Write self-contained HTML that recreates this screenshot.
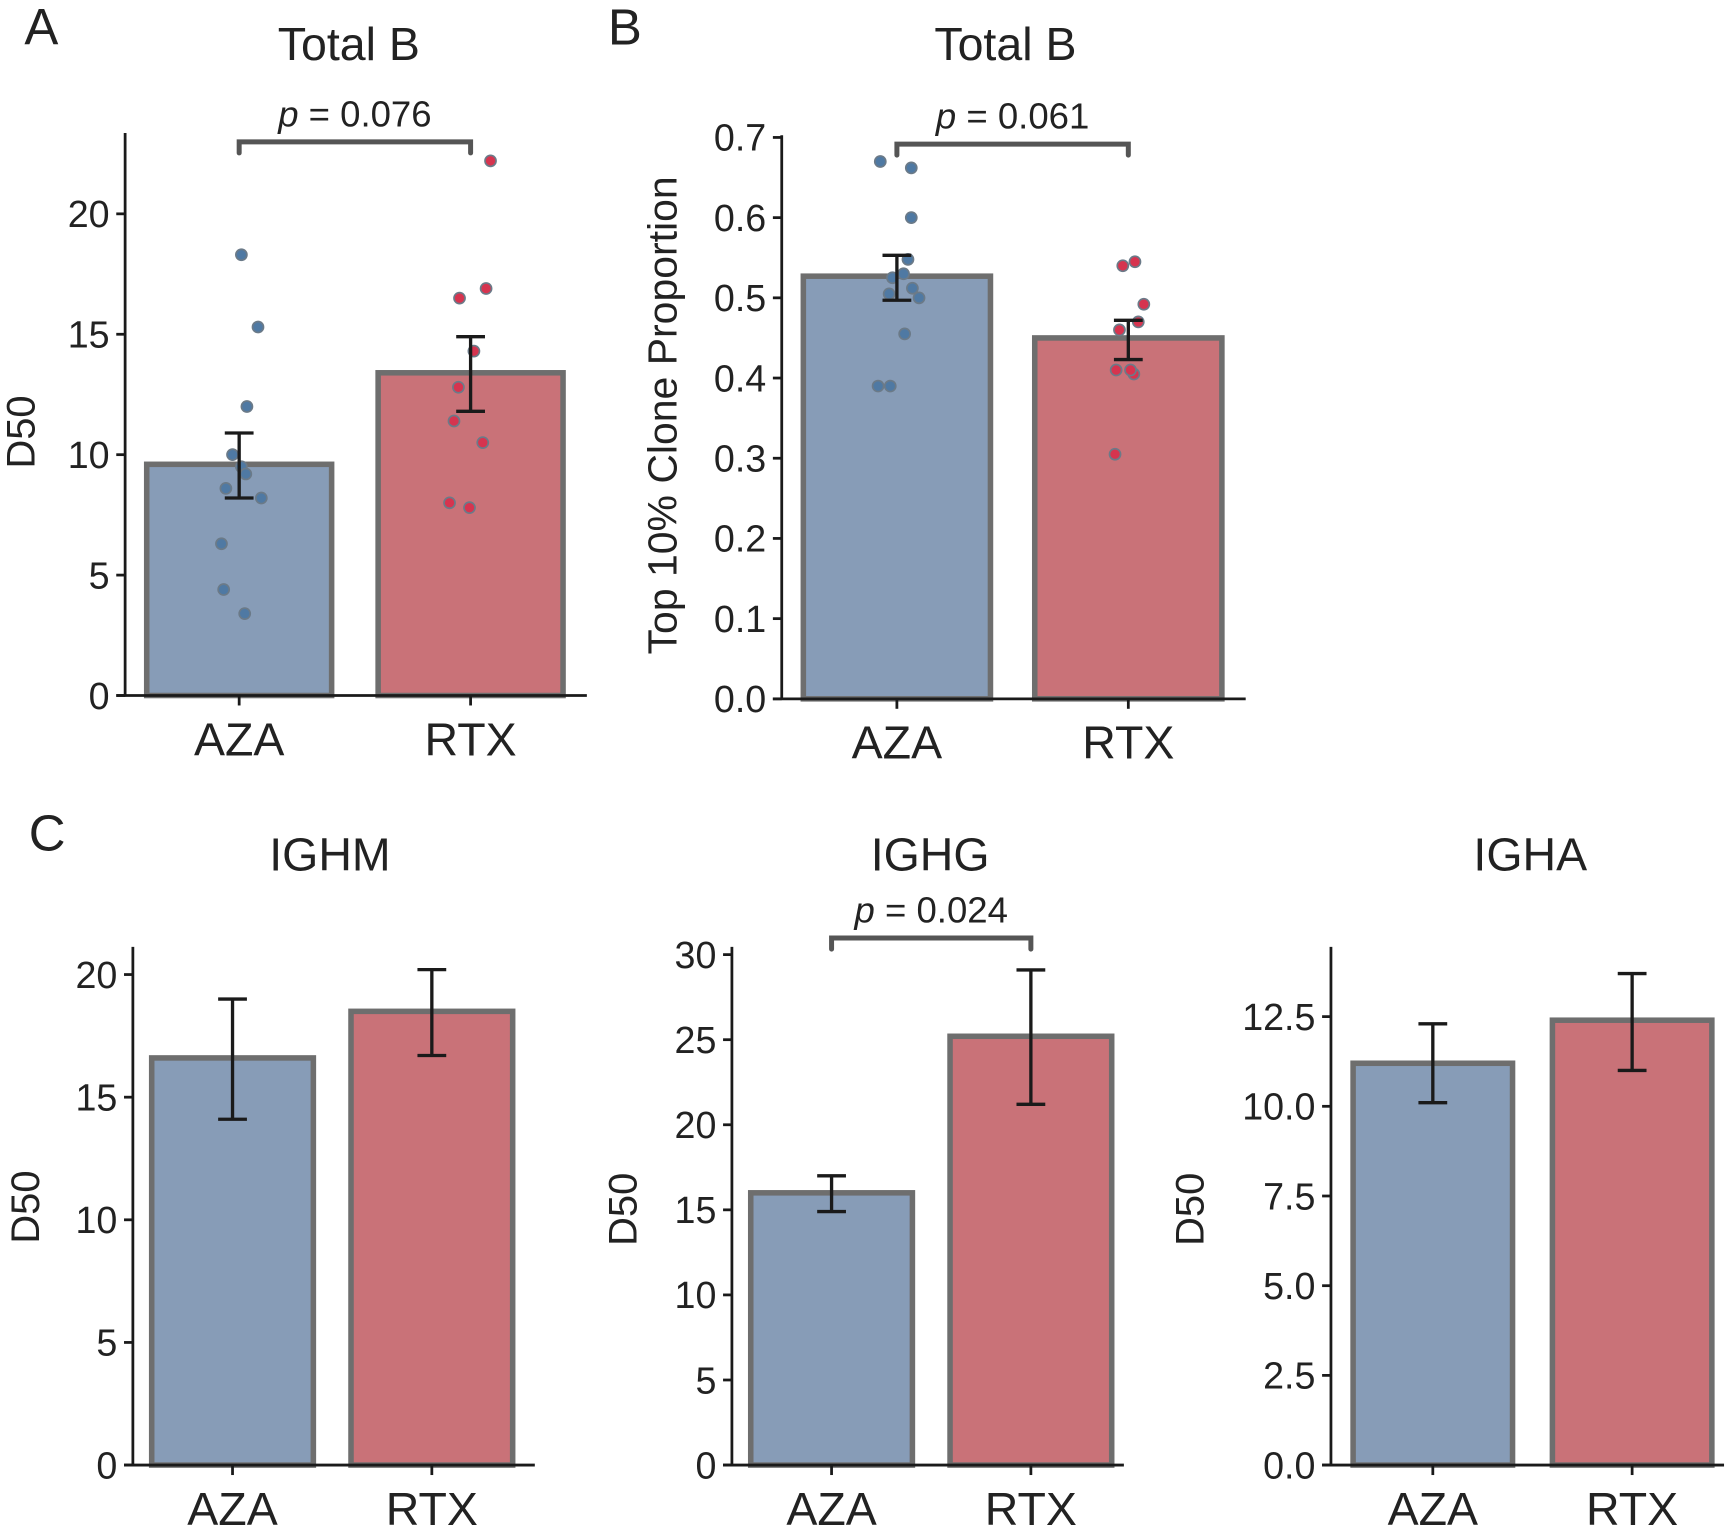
<!DOCTYPE html>
<html><head><meta charset="utf-8">
<style>
html,body{margin:0;padding:0;background:#fff;}
svg text{font-family:"Liberation Sans",Arial,sans-serif;fill:#222;}
</style></head>
<body>
<svg id="fig" xmlns="http://www.w3.org/2000/svg" width="1734" height="1525" viewBox="0 0 1566 1377">
<rect width="1566" height="1377" fill="#fff"/>
</svg>
<script>
const categories = ["AZA", "RTX"];
// Panel A: Total B D50
const aMeans = [9.6, 13.4];
const aErrLo = [8.2, 11.8];
const aErrHi = [10.9, 14.9];
const aTicks = [0, 5, 10, 15, 20];
const aTickLabels = ["0", "5", "10", "15", "20"];
const aPtsAZA = [18.3, 15.3, 12.0, 10.0, 9.5, 9.2, 8.6, 8.2, 6.3, 4.4, 3.4];
const aJitAZA = [2, 17, 7, -6, 2, 6, -12, 20, -16, -14, 5];
const aPtsRTX = [22.2, 16.5, 16.9, 14.3, 12.8, 11.4, 10.5, 8.0, 7.8];
const aJitRTX = [18, -10, 14, 3, -11, -15, 11, -19, -1];
// Panel B: Top 10% clone proportion
const bMeans = [0.527, 0.45];
const bErrLo = [0.497, 0.423];
const bErrHi = [0.553, 0.472];
const bTicks = [0, 0.1, 0.2, 0.3, 0.4, 0.5, 0.6, 0.7];
const bTickLabels = ["0.0", "0.1", "0.2", "0.3", "0.4", "0.5", "0.6", "0.7"];
const bPtsAZA = [0.67, 0.662, 0.60, 0.548, 0.525, 0.53, 0.512, 0.505, 0.50, 0.455, 0.39, 0.39];
const bJitAZA = [-15, 13, 13, 10, -4, 6, 14, -7, 20, 7, -17, -6];
const bPtsRTX = [0.545, 0.54, 0.492, 0.47, 0.46, 0.41, 0.405, 0.41, 0.305];
const bJitRTX = [6, -5, 14, 9, -8, -11, 5, 2, -12];
// Panel C
const mMeans = [16.6, 18.5], mErrLo = [14.1, 16.7], mErrHi = [19.0, 20.2];
const mTicks = [0, 5, 10, 15, 20], mTickLabels = ["0", "5", "10", "15", "20"];
const gMeans = [16.0, 25.2], gErrLo = [14.9, 21.2], gErrHi = [17.0, 29.1];
const gTicks = [0, 5, 10, 15, 20, 25, 30], gTickLabels = ["0", "5", "10", "15", "20", "25", "30"];
const hMeans = [11.2, 12.4], hErrLo = [10.1, 11.0], hErrHi = [12.3, 13.7];
const hTicks = [0, 2.5, 5, 7.5, 10, 12.5], hTickLabels = ["0.0", "2.5", "5.0", "7.5", "10.0", "12.5"];

const NS = "http://www.w3.org/2000/svg";
const svg = document.getElementById("fig");
function mk(tag, attrs, parent, txt) {
  const e = document.createElementNS(NS, tag);
  for (const k in attrs) e.setAttribute(k, attrs[k]);
  if (txt !== undefined) e.textContent = txt;
  (parent || svg).appendChild(e);
  return e;
}
const fills = ["#879cb7", "#c97278"];
const ptFill = ["#4f79a3", "#d6344f"];

function panel(cfg) {
  const g = mk("g", {});
  
  
  const y = v => cfg.y0 + (v - 0) * (cfg.y1 - cfg.y0) / cfg.v1;
  cfg.means.forEach((m, i) => {
    const cx = cfg.cx[i];
    const r = mk("rect", {x: cx - cfg.bw / 2, y: y(m), width: cfg.bw, height: cfg.y0 - y(m),
      fill: fills[i], stroke: "#6e6e6e", "stroke-width": 5}, g);
    
    
  });
  if (cfg.pts) cfg.pts.forEach((arr, i) => {
    arr.forEach((v, j) => {
      const c = mk("circle", {cx: cfg.cx[i] + cfg.jit[i][j], cy: y(v), r: 5, fill: ptFill[i],
        stroke: "#6b7a88", "stroke-width": 1.5}, g);
      
      
    });
  });
  cfg.means.forEach((m, i) => {
    const cx = cfg.cx[i];
    const eg = mk("g", {stroke: "#1a1a1a", "stroke-width": 3}, g);
    
    
    mk("line", {x1: cx, x2: cx, y1: y(cfg.lo[i]), y2: y(cfg.hi[i])}, eg);
    mk("line", {x1: cx - 13, x2: cx + 13, y1: y(cfg.lo[i]), y2: y(cfg.lo[i])}, eg);
    mk("line", {x1: cx - 13, x2: cx + 13, y1: y(cfg.hi[i]), y2: y(cfg.hi[i])}, eg);
  });
  const ax = mk("g", {stroke: "#1a1a1a", "stroke-width": 2.5}, g);
  
  
  mk("line", {x1: cfg.ax, x2: cfg.ax, y1: cfg.top, y2: cfg.y0 + 1}, ax);
  mk("line", {x1: cfg.ax - 8, x2: cfg.xr, y1: cfg.y0, y2: cfg.y0}, ax);
  cfg.ticks.forEach((t, i) => {
    mk("line", {x1: cfg.ax - 8, x2: cfg.ax, y1: y(t), y2: y(t)}, ax);
    const tl = mk("text", {x: cfg.ax - 14, y: y(t) + 12, "font-size": 34, "text-anchor": "end"}, g, cfg.tickLabels[i]);
    
    
  });
  categories.forEach((c, i) => {
    mk("line", {x1: cfg.cx[i], x2: cfg.cx[i], y1: cfg.y0, y2: cfg.y0 + 9}, ax);
    const t = mk("text", {x: cfg.cx[i], y: cfg.y0 + 54, "font-size": 42, "text-anchor": "middle"}, g, c);
    
    
  });
  const yl = mk("text", {x: 0, y: 0, "font-size": cfg.ylfs || 36, "text-anchor": "middle",
    transform: `translate(${cfg.ylx},${cfg.yly}) rotate(-90)`}, g, cfg.ylabel);
  
  
  const ti = mk("text", {x: cfg.tx, y: cfg.ty, "font-size": 42, "text-anchor": "middle"}, g, cfg.title);
  
  
  if (cfg.p) {
    const by = cfg.by;
    const br = mk("path", {d: `M${cfg.cx[0]},${by + 10} L${cfg.cx[0]},${by} L${cfg.cx[1]},${by} L${cfg.cx[1]},${by + 10}`,
      fill: "none", stroke: "#555", "stroke-width": 4.5, "stroke-linecap": "round"}, g);
    
    
    const pt = mk("text", {x: (cfg.cx[0] + cfg.cx[1]) / 2, y: by - 14, "font-size": 33, "text-anchor": "middle"}, g);
    
    
    mk("tspan", {"font-style": "italic"}, pt, "p");
    mk("tspan", {}, pt, " = " + cfg.p);
  }
  if (cfg.letter) {
    const l = mk("text", {x: cfg.lx, y: cfg.ly, "font-size": 46}, g, cfg.letter);
    
    
  }
}

panel({name: "panel-a", ax: 113, xr: 530, top: 120, y0: 628, y1: 193, v1: 20, bw: 167, cx: [216, 425],
  means: aMeans, lo: aErrLo, hi: aErrHi, ticks: aTicks, tickLabels: aTickLabels,
  pts: [aPtsAZA, aPtsRTX], jit: [aJitAZA, aJitRTX], ylabel: "D50", ylx: 31, yly: 390,
  title: "Total B", tx: 315, ty: 54, p: "0.076", by: 128, letter: "A", lx: 22, ly: 40});
panel({name: "panel-b", ax: 706, xr: 1125, top: 122, y0: 631, y1: 124, v1: 0.7, bw: 169, cx: [810, 1019],
  means: bMeans, lo: bErrLo, hi: bErrHi, ticks: bTicks, tickLabels: bTickLabels,
  pts: [bPtsAZA, bPtsRTX], jit: [bJitAZA, bJitRTX], ylabel: "Top 10% Clone Proportion", ylfs: 37, ylx: 611, yly: 375,
  title: "Total B", tx: 908, ty: 54, p: "0.061", by: 130, letter: "B", lx: 549, ly: 40});
panel({name: "panel-c-ighm", ax: 120, xr: 483, top: 855, y0: 1323, y1: 880, v1: 20, bw: 146, cx: [210, 390],
  means: mMeans, lo: mErrLo, hi: mErrHi, ticks: mTicks, tickLabels: mTickLabels,
  ylabel: "D50", ylx: 35, yly: 1090, title: "IGHM", tx: 298, ty: 786, letter: "C", lx: 26, ly: 768});
panel({name: "panel-c-ighg", ax: 661, xr: 1015, top: 855, y0: 1323, y1: 862, v1: 30, bw: 146, cx: [751, 931],
  means: gMeans, lo: gErrLo, hi: gErrHi, ticks: gTicks, tickLabels: gTickLabels,
  ylabel: "D50", ylx: 575, yly: 1092, title: "IGHG", tx: 840, ty: 786, p: "0.024", by: 847});
panel({name: "panel-c-igha", ax: 1202, xr: 1557, top: 855, y0: 1323, y1: 918, v1: 12.5, bw: 144, cx: [1294, 1474],
  means: hMeans, lo: hErrLo, hi: hErrHi, ticks: hTicks, tickLabels: hTickLabels,
  ylabel: "D50", ylx: 1087, yly: 1092, title: "IGHA", tx: 1382, ty: 786});
</script>
</body></html>
